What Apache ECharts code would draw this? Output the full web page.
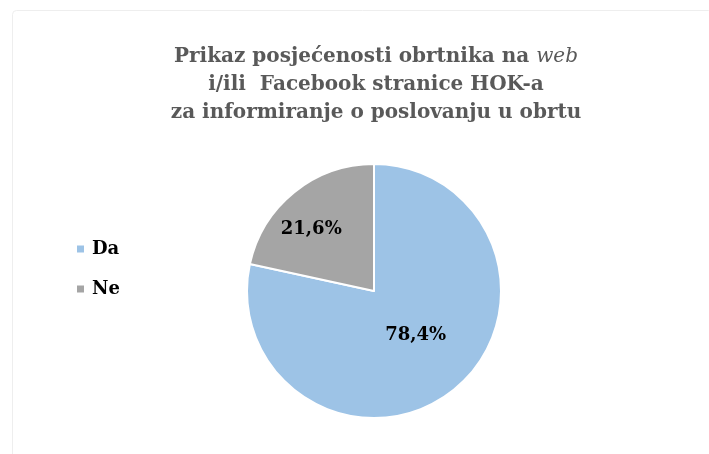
<!DOCTYPE html>
<html>
<head>
<meta charset="utf-8">
<script src="https://cdn.jsdelivr.net/npm/echarts@6/dist/echarts.min.js"></script>
<style>html,body{margin:0;padding:0;background:#fff;}#c{width:709px;height:454px;}</style>
</head>
<body>
<div id="c"></div>
<script>
const categories = ["Da", "Ne"];
const values = [78.4, 21.6];
const titleLines = ["Prikaz posjećenosti obrtnika na ", "web", "i/ili  Facebook stranice HOK-a", "za informiranje o poslovanju u obrtu"];

const colors = ["#9DC3E6", "#A5A5A5"];
const labelOffsets = [[0, -7], [-21, -10]];
const serif = "'DejaVu Serif', 'Liberation Serif', serif";

const chart = echarts.init(document.getElementById('c'));
chart.setOption({
  backgroundColor: '#fff',
  animation: false,
  color: colors,
  graphic: [{
    type: 'rect', left: 10, top: 8,
    shape: { width: 700, height: 450, r: 4 },
    style: { fill: 'none', stroke: '#eeeeee', lineWidth: 1 }
  }],
  title: {
    left: 371, top: 38, textAlign: 'center',
    text: '{b|' + titleLines[0] + '}{i|' + titleLines[1] + '}\n{b|' + titleLines[2] + '}\n{b|' + titleLines[3] + '}',
    textStyle: {
      rich: {
        b: { fontFamily: serif, fontWeight: 'bold', fontSize: 20, color: '#595959', lineHeight: 28 },
        i: { fontFamily: serif, fontWeight: 'normal', fontStyle: 'italic', fontSize: 20, color: '#595959', lineHeight: 28 }
      }
    }
  },
  legend: {
    orient: 'vertical', left: 70, top: 235,
    itemWidth: 9, itemHeight: 9, itemGap: 22,
    icon: 'rect',
    textStyle: { fontFamily: serif, fontWeight: 'bold', fontSize: 18, color: '#000', padding: [0, 0, 0, 2] },
    data: categories
  },
  series: [{
    type: 'pie',
    center: [374, 291],
    radius: 127,
    startAngle: 90,
    clockwise: true,
    itemStyle: { borderColor: '#fff', borderWidth: 2 },
    label: {
      show: true, position: 'inside',
      fontFamily: serif, fontWeight: 'bold', fontSize: 18, color: '#000',
      formatter: p => p.value.toFixed(1).replace('.', ',') + '%'
    },
    labelLine: { show: false },
    emphasis: { disabled: true },
    data: categories.map((c, i) => ({ name: c, value: values[i], label: { offset: labelOffsets[i] } }))
  }]
});
</script>
</body>
</html>
